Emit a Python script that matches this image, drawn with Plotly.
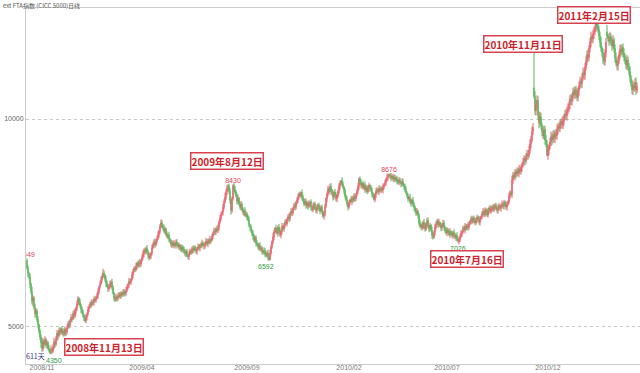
import pandas as pd
import plotly.graph_objects as go

title_text = "ext FTA指数 (CICC 5000)日线"
start_date = "2008-10-13"
holidays = [
    "2009-01-01", "2009-01-02", "2009-01-26", "2009-01-27", "2009-01-28", "2009-01-29", "2009-01-30",
    "2009-04-06", "2009-05-01", "2009-05-28", "2009-05-29",
    "2009-10-01", "2009-10-02", "2009-10-05", "2009-10-06", "2009-10-07", "2009-10-08",
    "2010-01-01", "2010-02-15", "2010-02-16", "2010-02-17", "2010-02-18", "2010-02-19",
    "2010-04-05", "2010-05-03", "2010-06-14", "2010-06-15", "2010-06-16",
    "2010-09-22", "2010-09-23", "2010-09-24",
    "2010-10-01", "2010-10-04", "2010-10-05", "2010-10-06", "2010-10-07",
    "2011-01-03", "2011-02-02", "2011-02-03", "2011-02-04", "2011-02-07", "2011-02-08",
    "2011-04-04", "2011-04-05",
]

closes = [
    6420, 6280, 6210, 6030, 5850, 5620, 5700, 5480, 5320, 5390,
    5180, 5060, 4900, 4760, 4620, 4480, 4660, 4590, 4700, 4560,
    4620, 4490, 4430, 4380, 4470, 4420, 4520, 4640, 4580, 4720,
    4850, 4790, 4920, 4880, 4960, 4850, 4900, 4830, 4940, 4880,
    4990, 5080, 5040, 5150, 5230, 5190, 5320, 5260, 5380, 5450,
    5560, 5680, 5600, 5520, 5430, 5350, 5280, 5220, 5150, 5240,
    5310, 5420, 5480, 5560, 5530, 5610, 5590, 5670, 5640, 5700,
    5760, 5850, 5960, 6040, 6130, 6220, 6300, 6250, 6150, 6060,
    5990, 5920, 5960, 6040, 6080, 5950, 5820, 5700, 5660, 5720,
    5690, 5760, 5730, 5800, 5760, 5830, 5790, 5850, 5810, 5880,
    5960, 6020, 6100, 6070, 6150, 6250, 6330, 6410, 6380, 6460,
    6530, 6480, 6560, 6510, 6600, 6680, 6760, 6850, 6800, 6890,
    6820, 6730, 6660, 6720, 6780, 6900, 6990, 7050, 6980, 7070,
    7130, 7220, 7300, 7420, 7510, 7450, 7380, 7300, 7350, 7240,
    7170, 7210, 7120, 7050, 6980, 7030, 6950, 7010, 6960, 7040,
    6990, 6930, 6970, 6900, 6850, 6920, 6870, 6800, 6760, 6820,
    6720, 6690, 6760, 6830, 6790, 6880, 6850, 6910, 6870, 6820,
    6880, 6930, 6900, 6980, 6950, 7020, 6970, 6940, 7010, 7060,
    7000, 7080, 7040, 7110, 7090, 7180, 7250, 7310, 7280, 7360,
    7320, 7400, 7520, 7610, 7700, 7760, 7880, 8010, 8120, 8250,
    8340, 8390, 8260, 8050, 7800, 8080, 8400, 8310, 8250, 8150,
    8020, 8100, 7960, 7880, 7950, 7820, 7750, 7800, 7690, 7720,
    7640, 7580, 7460, 7400, 7310, 7250, 7180, 7080, 7150, 7020,
    6980, 6920, 6960, 6870, 6900, 6820, 6790, 6840, 6760, 6720,
    6780, 6680, 6620, 6780, 6920, 7050, 7170, 7280, 7380, 7330,
    7250, 7400, 7330, 7210, 7290, 7420, 7350, 7460, 7520, 7480,
    7590, 7650, 7600, 7720, 7780, 7740, 7860, 7920, 7880, 7990,
    8060, 8130, 8200, 8150, 8230, 8120, 8040, 7960, 8020, 7920,
    7980, 7900, 7960, 8010, 7880, 7820, 7900, 7960, 7850, 7800,
    7870, 7930, 7840, 7790, 7880, 7760, 7660, 7720, 7900, 8080,
    8200, 8320, 8260, 8380, 8300, 8200, 8120, 8240, 8180, 8080,
    8150, 8260, 8380, 8450, 8520, 8440, 8360, 8280, 8150, 8060,
    7960, 7880, 7990, 8060, 8010, 8100, 8050, 8140, 8090, 8180,
    8260, 8380, 8560, 8480, 8400, 8460, 8350, 8420, 8300, 8360,
    8250, 8330, 8410, 8350, 8280, 8200, 8150, 8060, 8180, 8260,
    8300, 8250, 8330, 8280, 8340, 8290, 8370, 8420, 8480, 8550,
    8600, 8640, 8660, 8620, 8580, 8630, 8560, 8600, 8540, 8580,
    8510, 8470, 8530, 8480, 8440, 8500, 8420, 8380, 8300, 8220,
    8160, 8080, 8120, 8020, 7970, 8050, 7950, 7880, 7800, 7730,
    7780, 7680, 7500, 7420, 7460, 7380, 7520, 7440, 7350, 7480,
    7560, 7410, 7360, 7450, 7330, 7200, 7160, 7280, 7400, 7480,
    7550, 7460, 7520, 7440, 7380, 7450, 7500, 7400, 7320, 7260,
    7340, 7280, 7220, 7300, 7250, 7190, 7270, 7210, 7150, 7200,
    7120, 7060, 7100, 7180, 7250, 7300, 7380, 7330, 7420, 7370,
    7440, 7400, 7480, 7550, 7600, 7530, 7620, 7580, 7500, 7560,
    7640, 7590, 7520, 7600, 7660, 7720, 7780, 7700, 7820, 7760,
    7690, 7800, 7860, 7780, 7840, 7900, 7820, 7880, 7930, 7860,
    7800, 7870, 7920, 7850, 7910, 7960, 7900, 8000, 7940, 7880,
    7950, 8010, 8150, 8230, 8180, 8540, 8650, 8600, 8720, 8680,
    8760, 8700, 8800, 8740, 8830, 8900, 8960, 9050, 8990, 9100,
    9160, 9120, 9250, 9400, 9500, 9700, 9800, 10550, 10200, 10350,
    10450, 10100, 9900, 10050, 9850, 9700, 9600, 9750, 9500, 9400,
    9120, 9250, 9350, 9450, 9580, 9500, 9620, 9540, 9660, 9600,
    9750, 9820, 9780, 9880, 9940, 9860, 9960, 10050, 10120, 10080,
    10200, 10260, 10350, 10480, 10420, 10560, 10650, 10580, 10700, 10620,
    10520, 10680, 10800, 10900, 10860, 11000, 11120, 11060, 11250, 11400,
    11550, 11480, 11700, 11850, 11980, 11920, 12050, 12100, 12200, 12330,
    12250, 12150, 12000, 11850, 11700, 11600, 11450, 11380, 11600, 11850,
    12000, 11950, 11880, 11980, 11850, 11760, 11900, 11700, 11480, 11350,
    11280, 11400, 11550, 11680, 11620, 11720, 11580, 11500, 11400, 11300,
    11420, 11250, 11150, 11000, 10850, 10700, 10800, 10750, 10880, 10700,
    10780,
]
first_open = 6600

# daily shadow lengths (in units of wick_unit index points)
wick_unit = 20
upper_wicks = [
    0, 3, 2, 4, 2, 6, 3, 2, 4, 3,  2, 4, 1, 3, 3, 5, 4, 2, 4, 2,
    3, 2, 4, 1, 4, 2, 3, 5, 2, 3,  4, 2, 3, 4, 1, 3, 2, 4, 3, 2,
    3, 3, 4, 2, 4, 1, 3, 5, 3, 2,  4, 3, 2, 4, 2, 3, 3, 1, 4, 3,
    2, 4, 3, 2, 4, 3, 1, 3, 4, 2,  3, 4, 2, 3, 4, 2, 5, 3, 1, 4,
    3, 2, 3, 4, 2, 4, 3, 1, 3, 4,  2, 3, 4, 2, 3, 1, 4, 3, 2, 4,
    3, 2, 4, 3, 1, 4, 3, 2, 3, 4,  2, 3, 3, 4, 1, 3, 4, 2, 3, 2,
    4, 2, 3, 3, 1, 4, 2, 3, 4, 2,  3, 4, 2, 3, 4, 3, 1, 4, 3, 2,
    3, 2, 4, 1, 3, 3, 2, 4, 2, 3,  4, 2, 3, 1, 4, 3, 2, 3, 4, 2,
    3, 1, 4, 3, 2, 3, 4, 2, 3, 3,  2, 4, 3, 1, 3, 4, 2, 3, 2, 4,
    3, 2, 3, 4, 1, 3, 2, 4, 3, 2,  4, 3, 2, 4, 3, 2, 4, 3, 5, 3,
    4, 2, 3, 4, 2, 3, 0, 3, 4, 2,  3, 4, 1, 3, 4, 2, 3, 2, 4, 3,
    2, 3, 4, 1, 3, 2, 4, 3, 2, 3,  3, 2, 3, 4, 1, 3, 2, 4, 3, 2,
    3, 4, 2, 4, 3, 2, 4, 3, 1, 4,  3, 2, 4, 3, 2, 4, 1, 2, 3, 4,
    2, 3, 4, 2, 4, 3, 1, 3, 4, 2,  3, 4, 2, 3, 1, 4, 3, 2, 4, 3,
    2, 3, 4, 1, 3, 2, 4, 3, 2, 3,  4, 2, 3, 4, 2, 3, 1, 4, 3, 2,
    3, 4, 2, 3, 4, 1, 3, 2, 4, 3,  2, 3, 4, 3, 1, 4, 3, 2, 3, 2,
    4, 2, 3, 1, 4, 3, 2, 4, 3, 2,  3, 4, 2, 3, 4, 1, 3, 2, 4, 3,
    2, 4, 3, 1, 3, 4, 2, 3, 2, 4,  3, 2, 4, 3, 1, 3, 4, 2, 3, 2,
    4, 3, 0, 2, 4, 3, 1, 4, 3, 2,  3, 2, 4, 3, 1, 4, 3, 2, 3, 4,
    2, 3, 1, 4, 3, 2, 4, 3, 2, 3,  4, 2, 3, 4, 1, 3, 2, 4, 3, 2,
    3, 4, 2, 3, 1, 4, 3, 2, 4, 3,  2, 3, 4, 1, 3, 2, 4, 3, 2, 4,
    3, 2, 3, 4, 1, 3, 2, 4, 3, 2,  4, 3, 2, 3, 4, 1, 3, 2, 4, 3,
    2, 4, 3, 1, 3, 4, 2, 3, 2, 4,  3, 2, 4, 3, 1, 3, 4, 2, 3, 2,
    4, 3, 2, 4, 3, 1, 3, 4, 2, 3,  2, 4, 3, 1, 3, 4, 2, 3, 2, 4,
    3, 2, 4, 3, 2, 5, 4, 3, 4, 3,  4, 3, 5, 3, 4, 3, 5, 4, 3, 4,
    5, 4, 5, 6, 5, 6, 5, 0, 6, 5,  6, 5, 4, 6, 5, 3, 6, 5, 4, 6,
    5, 6, 3, 5, 6, 4, 5, 6, 3, 5,  6, 4, 5, 6, 3, 5, 6, 4, 5, 6,
    5, 6, 4, 5, 6, 3, 5, 6, 4, 5,  6, 4, 5, 6, 3, 5, 6, 4, 5, 6,
    5, 6, 4, 5, 6, 3, 5, 6, 4, 0,  5, 6, 4, 5, 6, 3, 5, 6, 4, 5,
    0, 3, 5, 6, 4, 5, 6, 3, 5, 6,  5, 6, 4, 5, 6, 3, 5, 6, 4, 5,
    6, 4, 5, 6, 3, 5, 6, 4, 5, 6,  5,
]
lower_wicks = [
    0, 4, 3, 5, 3, 4, 6, 3, 5, 4,  3, 5, 3, 4, 6, 4, 3, 5, 2, 3,
    4, 2, 2, 0, 2, 3, 2, 3, 4, 2,  3, 5, 2, 4, 3, 2, 4, 3, 2, 5,
    3, 2, 4, 3, 2, 4, 1, 3, 2, 4,  3, 2, 4, 3, 5, 2, 3, 4, 2, 3,
    4, 2, 3, 1, 4, 2, 3, 4, 2, 3,  2, 4, 3, 2, 1, 3, 2, 4, 3, 5,
    2, 4, 3, 2, 4, 3, 2, 4, 3, 2,  4, 3, 1, 3, 4, 2, 3, 2, 4, 3,
    2, 3, 4, 2, 3, 2, 4, 1, 3, 2,  4, 3, 2, 4, 3, 2, 3, 4, 2, 3,
    2, 4, 3, 2, 4, 3, 1, 3, 4, 2,  3, 2, 4, 3, 2, 4, 3, 2, 4, 3,
    2, 3, 4, 2, 3, 4, 1, 3, 2, 4,  3, 2, 4, 3, 2, 3, 4, 2, 3, 4,
    2, 3, 4, 1, 3, 2, 4, 3, 2, 3,  4, 2, 3, 4, 2, 3, 1, 4, 3, 2,
    3, 4, 2, 3, 4, 2, 3, 2, 4, 3,  2, 3, 4, 2, 3, 1, 4, 3, 2, 3,
    4, 2, 3, 4, 5, 3, 2, 4, 3, 2,  4, 3, 2, 3, 4, 2, 3, 4, 2, 3,
    4, 2, 3, 4, 2, 3, 4, 2, 3, 4,  2, 3, 4, 2, 3, 4, 2, 3, 4, 2,
    3, 4, 2, 1, 3, 2, 3, 4, 2, 3,  2, 4, 3, 2, 4, 3, 1, 3, 4, 2,
    3, 2, 4, 3, 2, 4, 3, 2, 4, 3,  2, 4, 3, 1, 3, 4, 2, 3, 2, 4,
    3, 4, 2, 3, 4, 2, 3, 4, 2, 3,  4, 2, 3, 4, 1, 3, 2, 4, 3, 2,
    4, 3, 2, 4, 3, 2, 4, 3, 1, 3,  4, 2, 3, 4, 2, 3, 2, 4, 3, 2,
    3, 4, 2, 3, 1, 4, 3, 2, 4, 3,  2, 3, 4, 2, 3, 4, 2, 3, 4, 2,
    3, 2, 4, 3, 2, 4, 3, 1, 3, 4,  2, 3, 4, 2, 3, 2, 4, 3, 2, 4,
    3, 4, 2, 3, 4, 2, 3, 4, 2, 3,  4, 2, 3, 2, 4, 3, 2, 4, 3, 1,
    3, 4, 2, 3, 4, 2, 3, 4, 2, 3,  2, 4, 3, 2, 4, 3, 2, 4, 3, 2,
    3, 2, 4, 3, 2, 4, 3, 2, 4, 3,  2, 4, 3, 2, 4, 3, 2, 4, 3, 2,
    4, 3, 2, 4, 3, 2, 4, 3, 2, 4,  3, 2, 4, 3, 2, 4, 3, 2, 4, 3,
    2, 4, 3, 2, 4, 3, 2, 4, 3, 2,  3, 0, 3, 4, 2, 3, 4, 2, 3, 4,
    2, 3, 4, 2, 3, 4, 2, 3, 4, 2,  3, 4, 2, 3, 4, 2, 3, 4, 2, 3,
    4, 2, 3, 4, 2, 4, 5, 3, 4, 5,  3, 4, 5, 3, 4, 5, 3, 4, 5, 3,
    4, 5, 3, 4, 5, 3, 4, 0, 5, 6,  4, 5, 6, 4, 5, 6, 4, 5, 6, 4,
    0, 5, 6, 4, 5, 6, 4, 5, 6, 4,  5, 6, 4, 5, 6, 4, 5, 6, 4, 5,
    6, 4, 5, 6, 4, 5, 6, 4, 5, 6,  4, 5, 6, 4, 5, 6, 4, 5, 6, 4,
    5, 6, 4, 5, 6, 4, 5, 6, 4, 5,  6, 4, 5, 6, 4, 5, 6, 4, 5, 6,
    4, 5, 6, 4, 5, 6, 4, 5, 6, 4,  5, 6, 4, 5, 6, 4, 5, 6, 4, 5,
    6, 4, 5, 6, 4, 5, 6, 4, 5, 6,  4,
]

# candles with explicit gaps / wicks
special_dates = ["2008-10-13", "2008-11-13", "2009-08-12", "2009-10-09", "2010-04-06",
                 "2010-07-16", "2010-11-11", "2011-02-15", "2011-03-02"]
special_opens = [6600, None, None, None, None, None, 10750, None, 12100]
special_highs = [6649, None, 8430, None, 8676, None, 11700, 12417, 12260]
special_lows = [6380, 4350, None, 6592, None, 7026, 10500, None, None]

# extreme value labels
high_label_dates = ["2008-10-13", "2009-08-12", "2010-04-06", "2011-02-15"]
high_label_values = [6649, 8430, 8676, 12417]
low_label_dates = ["2008-11-13", "2009-10-09", "2010-07-16"]
low_label_values = [4350, 6592, 7026]

# callout boxes
callout_dates = ["2008-11-13", "2009-08-12", "2010-07-16", "2010-11-11", "2011-02-15"]
callout_values = [4350, 8430, 7026, 11700, 12417]
callout_texts = ["2008年11月13日", "2009年8月12日", "2010年7月16日", "2010年11月11日", "2011年2月15日"]

tick_dates = ["2008-11-03", "2009-04-01", "2009-09-01", "2010-02-01", "2010-07-01", "2010-12-01"]
tick_labels = ["2008/11", "2009/04", "2009/09", "2010/02", "2010/07", "2010/12"]
y_ticks = [5000, 10000]

# ---------------- build ----------------
n = len(closes)
dates = pd.bdate_range(start=start_date, periods=n, freq="C", holidays=holidays)
dstr = [d.strftime("%Y-%m-%d") for d in dates]
opens = [first_open] + closes[:-1]
pos = {d: i for i, d in enumerate(dstr)}
for d, o in zip(special_dates, special_opens):
    if o is not None and d in pos:
        opens[pos[d]] = o
uw = (upper_wicks + [0] * n)[:n]
lw = (lower_wicks + [0] * n)[:n]
highs = [max(o, c) + u * wick_unit for o, c, u in zip(opens, closes, uw)]
lows = [min(o, c) - l * wick_unit for o, c, l in zip(opens, closes, lw)]
for d, h, l in zip(special_dates, special_highs, special_lows):
    if d in pos:
        if h is not None:
            highs[pos[d]] = h
        if l is not None:
            lows[pos[d]] = l

RED = "#e8646e"
GREEN = "#5db65d"
LABEL_FONT = "Liberation Sans"

fig = go.Figure()
fig.add_trace(go.Candlestick(
    x=dstr, open=opens, high=highs, low=lows, close=closes,
    increasing=dict(line=dict(color=RED, width=1), fillcolor=RED),
    decreasing=dict(line=dict(color=GREEN, width=1), fillcolor=GREEN),
    whiskerwidth=0, showlegend=False, hoverinfo="skip",
))

# high labels (clipped at the plot edge, like the reference's cut "49")
high_pos = ["top center", "top center", "top center", "middle left"]
fig.add_trace(go.Scatter(
    x=high_label_dates, y=high_label_values, mode="text",
    text=[str(v) for v in high_label_values], textposition=high_pos,
    textfont=dict(family=LABEL_FONT, size=7, color="#e04050"),
    cliponaxis=True, showlegend=False, hoverinfo="skip",
))

# low labels
low_dx = [4, -3, 0]
low_dy = [-6, -6, -6]
for d, v, dx, dy in zip(low_label_dates, low_label_values, low_dx, low_dy):
    fig.add_annotation(
        x=d, y=v, xref="x", yref="y", text=str(v), showarrow=False,
        xshift=dx, yshift=dy, yanchor="middle",
        font=dict(family=LABEL_FONT, size=7, color="#2e9a3a"),
    )

callout_dx = [54, -6, 9, -11, -2]
callout_dy = [7, 23, -16, 4, 4]
for d, v, t, dx, dy in zip(callout_dates, callout_values, callout_texts, callout_dx, callout_dy):
    fig.add_annotation(
        x=d, y=v, xref="x", yref="y", text="<b>" + t + "</b>", showarrow=False,
        xshift=dx, yshift=dy,
        font=dict(family="Noto Sans CJK SC", size=10, color="#cc1f2e"),
        bgcolor="white", bordercolor="#d8424f", borderwidth=1.5, borderpad=0,
    )

fig.add_annotation(
    xref="paper", yref="paper", x=0, y=0.003, xanchor="left", yanchor="bottom",
    xshift=-2, text=f"{n}天", showarrow=False,
    font=dict(family="Noto Sans CJK SC", size=7, color="#333388"),
)
fig.add_annotation(
    xref="paper", yref="paper", x=-0.04, y=1.0, xanchor="left", yanchor="middle",
    yshift=3, text=title_text, showarrow=False,
    font=dict(family="Noto Sans CJK SC", size=6, color="#555555"),
)

fig.update_layout(
    width=640, height=373,
    margin=dict(l=26, r=0, t=8, b=9),
    paper_bgcolor="white", plot_bgcolor="white",
    showlegend=False,
    xaxis=dict(
        type="category", range=[-1, n + 2],
        rangeslider=dict(visible=False),
        tickmode="array", tickvals=tick_dates, ticktext=tick_labels,
        showgrid=False, showline=True, linecolor="#cccccc", linewidth=1, mirror=True,
        ticks="", tickfont=dict(family=LABEL_FONT, size=7, color="#777777"),
        ticklabelstandoff=-3,
        automargin=False, zeroline=False,
    ),
    yaxis=dict(
        range=[4110, 12670], tickmode="array", tickvals=y_ticks,
        ticktext=[str(v) for v in y_ticks],
        showgrid=True, gridcolor="#c8c8c8", griddash="dot", gridwidth=1,
        showline=True, linecolor="#cccccc", linewidth=1,
        ticks="", tickfont=dict(family=LABEL_FONT, size=7, color="#666666"),
        automargin=False, zeroline=False,
    ),
)

fig.write_html("out.html", config={"displayModeBar": False},
               post_script="document.body.style.margin='0px';")
